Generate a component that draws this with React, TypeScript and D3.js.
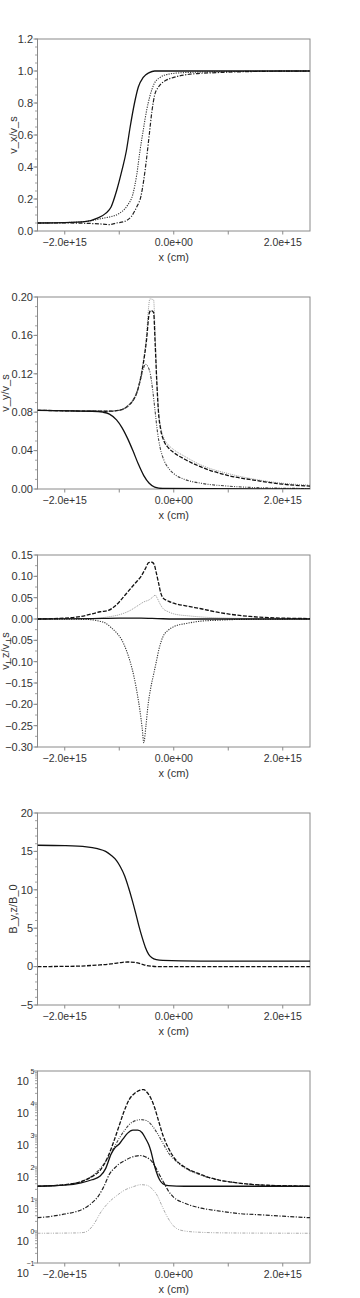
import React from 'react';
import * as d3 from 'd3';

type Pt = [number, number];

// x positions are given in units of 1e15 cm
const XU = 1e15;

// ---- panel 1: v_x/v_s
const vxSolid: Pt[] = [[-2.5, 0.05], [-2.0, 0.052], [-1.6, 0.06], [-1.4, 0.08], [-1.25, 0.11], [-1.15, 0.15], [-1.05, 0.25], [-0.95, 0.38], [-0.87, 0.5], [-0.8, 0.65], [-0.72, 0.8], [-0.65, 0.9], [-0.56, 0.96], [-0.45, 0.99], [-0.35, 1.0], [2.5, 1.0]];
const vxDotted: Pt[] = [[-2.5, 0.05], [-1.8, 0.055], [-1.5, 0.065], [-1.3, 0.08], [-1.15, 0.09], [-1.0, 0.11], [-0.85, 0.16], [-0.75, 0.23], [-0.68, 0.35], [-0.62, 0.5], [-0.55, 0.65], [-0.5, 0.75], [-0.44, 0.84], [-0.36, 0.92], [-0.25, 0.96], [-0.1, 0.98], [0.2, 0.99], [0.8, 0.995], [2.5, 1.0]];
const vxDashDot: Pt[] = [[-2.5, 0.05], [-2.0, 0.05], [-1.6, 0.048], [-1.3, 0.043], [-1.18, 0.04], [-1.05, 0.05], [-0.9, 0.06], [-0.78, 0.09], [-0.68, 0.15], [-0.6, 0.22], [-0.55, 0.32], [-0.5, 0.45], [-0.45, 0.6], [-0.4, 0.75], [-0.35, 0.85], [-0.28, 0.9], [-0.15, 0.94], [0.0, 0.96], [0.3, 0.98], [0.8, 0.99], [1.5, 0.997], [2.5, 1.0]];

// ---- panel 2: v_y/v_s
const vySolid: Pt[] = [[-2.5, 0.082], [-1.5, 0.081], [-1.3, 0.08], [-1.18, 0.078], [-1.05, 0.072], [-0.95, 0.064], [-0.85, 0.053], [-0.75, 0.04], [-0.65, 0.026], [-0.55, 0.014], [-0.45, 0.006], [-0.35, 0.002], [-0.2, 0.0005], [2.5, 0]];
const vyDashDot: Pt[] = [[-2.5, 0.082], [-1.2, 0.081], [-1.0, 0.082], [-0.85, 0.086], [-0.75, 0.092], [-0.68, 0.1], [-0.62, 0.112], [-0.56, 0.125], [-0.52, 0.13], [-0.47, 0.127], [-0.43, 0.12], [-0.38, 0.1], [-0.34, 0.08], [-0.3, 0.06], [-0.25, 0.043], [-0.18, 0.03], [-0.1, 0.022], [0.0, 0.016], [0.2, 0.01], [0.5, 0.006], [1.0, 0.003], [1.5, 0.0015], [2.5, 0.0005]];
const vyDashed: Pt[] = [[-2.5, 0.082], [-1.2, 0.081], [-1.0, 0.082], [-0.85, 0.086], [-0.75, 0.092], [-0.68, 0.1], [-0.62, 0.112], [-0.56, 0.13], [-0.5, 0.155], [-0.45, 0.183], [-0.42, 0.186], [-0.37, 0.184], [-0.34, 0.15], [-0.31, 0.11], [-0.28, 0.08], [-0.24, 0.062], [-0.18, 0.05], [-0.1, 0.043], [0.0, 0.038], [0.2, 0.031], [0.5, 0.023], [1.0, 0.014], [1.5, 0.009], [2.0, 0.005], [2.5, 0.003]];
const vyGray: Pt[] = [[-2.5, 0.082], [-1.2, 0.081], [-1.0, 0.082], [-0.85, 0.087], [-0.75, 0.093], [-0.68, 0.101], [-0.62, 0.114], [-0.56, 0.133], [-0.5, 0.16], [-0.46, 0.19], [-0.44, 0.198], [-0.37, 0.197], [-0.34, 0.16], [-0.31, 0.115], [-0.28, 0.083], [-0.24, 0.065], [-0.18, 0.053], [-0.1, 0.046], [0.0, 0.041], [0.2, 0.034], [0.5, 0.025], [1.0, 0.016], [1.5, 0.01], [2.0, 0.006], [2.5, 0.004]];

// ---- panel 3: v_z/v_s
const vzSolid: Pt[] = [[-2.5, 0], [-1.5, 0.001], [-1.0, 0.002], [-0.6, 0.002], [-0.3, 0.001], [0, 0], [2.5, 0]];
const vzDashed: Pt[] = [[-2.5, 0], [-2.0, 0.002], [-1.7, 0.006], [-1.5, 0.012], [-1.35, 0.017], [-1.2, 0.02], [-1.1, 0.028], [-1.0, 0.04], [-0.9, 0.055], [-0.8, 0.07], [-0.7, 0.085], [-0.6, 0.1], [-0.52, 0.118], [-0.46, 0.132], [-0.4, 0.133], [-0.36, 0.128], [-0.32, 0.108], [-0.28, 0.085], [-0.24, 0.062], [-0.2, 0.05], [-0.1, 0.042], [0.0, 0.037], [0.25, 0.03], [0.5, 0.024], [0.8, 0.016], [1.1, 0.01], [1.4, 0.006], [2.0, 0.002], [2.5, 0.001]];
const vzGray: Pt[] = [[-2.5, 0], [-1.5, 0.001], [-1.2, 0.005], [-1.0, 0.01], [-0.8, 0.02], [-0.65, 0.032], [-0.55, 0.04], [-0.45, 0.045], [-0.38, 0.052], [-0.34, 0.056], [-0.3, 0.048], [-0.25, 0.035], [-0.2, 0.025], [-0.1, 0.017], [0.0, 0.012], [0.3, 0.007], [0.6, 0.004], [1.0, 0.002], [1.5, 0.001], [2.5, 0]];
const vzDotted: Pt[] = [[-2.5, 0], [-1.6, -0.001], [-1.4, -0.004], [-1.25, -0.01], [-1.15, -0.02], [-1.05, -0.032], [-0.95, -0.05], [-0.87, -0.073], [-0.8, -0.1], [-0.73, -0.135], [-0.67, -0.175], [-0.62, -0.215], [-0.58, -0.255], [-0.55, -0.29], [-0.51, -0.25], [-0.47, -0.2], [-0.42, -0.16], [-0.37, -0.13], [-0.32, -0.1], [-0.27, -0.07], [-0.2, -0.042], [-0.1, -0.026], [0.0, -0.018], [0.25, -0.01], [0.5, -0.005], [0.8, -0.003], [1.2, -0.001], [2.5, 0]];

// ---- panel 4: B_y,z/B_0
const bySolid: Pt[] = [[-2.5, 15.8], [-2.0, 15.75], [-1.6, 15.6], [-1.4, 15.35], [-1.25, 15.0], [-1.15, 14.5], [-1.05, 13.8], [-0.98, 13.0], [-0.9, 11.8], [-0.83, 10.3], [-0.76, 8.6], [-0.7, 7.0], [-0.64, 5.3], [-0.58, 3.8], [-0.52, 2.5], [-0.46, 1.6], [-0.4, 1.15], [-0.32, 0.9], [-0.2, 0.8], [0.5, 0.72], [2.5, 0.7]];
const bzDashed: Pt[] = [[-2.5, 0], [-1.8, 0.05], [-1.4, 0.2], [-1.15, 0.35], [-1.0, 0.5], [-0.85, 0.6], [-0.72, 0.55], [-0.6, 0.35], [-0.5, 0.15], [-0.4, 0.05], [-0.3, 0], [2.5, 0]];

// ---- panel 5: log scale quantities
const lgDashed: Pt[] = [[-2.5, 25], [-2.0, 28], [-1.7, 35], [-1.5, 50], [-1.35, 79], [-1.2, 224], [-1.1, 631], [-1.0, 1995], [-0.92, 5012], [-0.82, 12589], [-0.72, 19953], [-0.62, 25119], [-0.55, 26303], [-0.5, 22387], [-0.42, 14125], [-0.35, 7079], [-0.28, 2818], [-0.2, 1000], [-0.1, 398], [0.0, 200], [0.2, 100], [0.45, 63], [0.8, 40], [1.1, 33], [1.5, 28], [2.0, 26], [2.5, 25]];
const lgDashDot: Pt[] = [[-2.5, 25], [-2.0, 28], [-1.7, 35], [-1.5, 52], [-1.35, 89], [-1.2, 200], [-1.1, 398], [-1.0, 794], [-0.9, 1413], [-0.8, 2239], [-0.7, 2818], [-0.6, 3020], [-0.5, 2818], [-0.4, 1995], [-0.3, 1122], [-0.2, 562], [-0.1, 282], [0.0, 178], [0.2, 95], [0.45, 60], [0.8, 40], [1.1, 33], [1.5, 28], [2.0, 26], [2.5, 25]];
const lgSolid: Pt[] = [[-2.5, 25], [-2.0, 27], [-1.7, 32], [-1.5, 40], [-1.35, 52], [-1.25, 89], [-1.15, 251], [-1.08, 398], [-1.0, 525], [-0.93, 759], [-0.85, 1122], [-0.75, 1413], [-0.66, 1413], [-0.58, 1175], [-0.52, 794], [-0.46, 501], [-0.42, 316], [-0.37, 141], [-0.32, 71], [-0.26, 40], [-0.2, 30], [-0.1, 26], [0.2, 25], [2.5, 25]];
const lgLower: Pt[] = [[-2.5, 2.6], [-2.2, 2.95], [-2.0, 3.4], [-1.8, 4.0], [-1.65, 5.0], [-1.5, 7.6], [-1.38, 12.6], [-1.28, 25], [-1.18, 60], [-1.08, 95], [-1.0, 126], [-0.9, 158], [-0.8, 195], [-0.7, 219], [-0.62, 229], [-0.5, 200], [-0.4, 148], [-0.32, 89], [-0.25, 52], [-0.18, 32], [-0.1, 18], [0.0, 11.2], [0.2, 7.4], [0.5, 5.2], [0.8, 4.3], [1.2, 3.5], [1.6, 3.2], [2.0, 2.9], [2.5, 2.6]];
const lgGray: Pt[] = [[-2.5, 0.85], [-1.8, 0.87], [-1.65, 0.9], [-1.55, 1.1], [-1.45, 1.8], [-1.35, 3.6], [-1.2, 7.6], [-1.05, 12.6], [-0.9, 19], [-0.75, 24], [-0.6, 28], [-0.5, 27], [-0.4, 21], [-0.3, 12.6], [-0.22, 6.3], [-0.15, 3.5], [-0.05, 1.8], [0.05, 1.2], [0.2, 1.0], [0.5, 0.91], [1.0, 0.87], [2.5, 0.85]];

// ---- axis text
const xTicks = [-2, -1, 0, 1, 2];
const xTickLabels = ['\u22122.0e+15', '', '0.0e+00', '', '2.0e+15'];
const xTitle = 'x (cm)';
const yTitles = ['v_x/v_s', 'v_y/v_s', 'v_z/v_s', 'B_y,z/B_0', ''];
const logDecades = [-1, 0, 1, 2, 3, 4, 5];

// line styles
const SOLID = { stroke: '#111', dash: '', w: 1.3 };
const DOTTED = { stroke: '#333', dash: '1.2,1.2', w: 1.1 };
const DASHED = { stroke: '#111', dash: '4,1.5', w: 1.3 };
const DASHDOT = { stroke: '#222', dash: '4,1.5,1.2,1.5', w: 1.2 };
const DASHDOT3 = { stroke: '#444', dash: '3,1.3,1,1.3,1,1.3', w: 1.1 };
const LIGHT = { stroke: '#999', dash: '1,1', w: 1 };
const LIGHTDD = { stroke: '#aaa', dash: '3,1.3,1,1.3,1,1.3', w: 1 };

type Series = { pts: Pt[]; style: typeof SOLID };

const panels = [
  { domain: [0, 1.2], major: 0.2, minor: 0.05, fmt: d3.format('.1f'), log: false, titleX: 13,
    series: [{ pts: vxDotted, style: DOTTED }, { pts: vxDashDot, style: DASHDOT }, { pts: vxSolid, style: SOLID }] },
  { domain: [0, 0.2], major: 0.04, minor: 0.01, fmt: d3.format('.2f'), log: false, titleX: 5.5,
    series: [{ pts: vyGray, style: LIGHT }, { pts: vyDashed, style: DASHED }, { pts: vyDashDot, style: DASHDOT3 }, { pts: vySolid, style: SOLID }] },
  { domain: [-0.3, 0.15], major: 0.05, minor: 0.025, fmt: d3.format('.2f'), log: false, titleX: 5,
    series: [{ pts: vzGray, style: LIGHT }, { pts: vzDotted, style: DOTTED }, { pts: vzDashed, style: DASHED }, { pts: vzSolid, style: SOLID }] },
  { domain: [-5, 20], major: 5, minor: 1, fmt: d3.format('d'), log: false, titleX: 13,
    series: [{ pts: bzDashed, style: DASHED }, { pts: bySolid, style: SOLID }] },
  { domain: [0.1, 1e5], major: 0, minor: 0, fmt: d3.format('d'), log: true, titleX: 13,
    series: [{ pts: lgGray, style: LIGHTDD }, { pts: lgLower, style: DASHDOT }, { pts: lgDashDot, style: DASHDOT3 }, { pts: lgDashed, style: DASHED }, { pts: lgSolid, style: SOLID }] },
];

const PANEL_H = 258;
const L = 37.5, R = 310, T = 39, B = 231;
const FONT = '"Liberation Sans", Arial, sans-serif';

function range(a: number, b: number, step: number) {
  const out: number[] = [];
  const n = Math.round((b - a) / step);
  for (let i = 0; i <= n; i++) out.push(+(a + i * step).toFixed(6));
  return out;
}

function Panel({ p, i }: { p: typeof panels[number]; i: number }) {
  const x = d3.scaleLinear().domain([-2.5 * XU, 2.5 * XU]).range([L, R]);
  const y: any = p.log
    ? d3.scaleLog().domain(p.domain).range([B, T])
    : d3.scaleLinear().domain(p.domain).range([B, T]);
  const line = d3.line<Pt>()
    .x(d => x(d[0] * XU))
    .y(d => y(d[1]))
    .curve(d3.curveMonotoneX);

  const majors = p.log ? logDecades.map(e => Math.pow(10, e)) : range(p.domain[0], p.domain[1], p.major);
  let minors: number[] = [];
  if (p.log) {
    logDecades.slice(0, -1).forEach(e => {
      for (let k = 2; k <= 9; k++) minors.push(k * Math.pow(10, e));
    });
  } else {
    minors = range(p.domain[0], p.domain[1], p.minor);
  }

  return (
    <g transform={`translate(0,${i * PANEL_H})`}>
      <rect x={L} y={T} width={R - L} height={B - T} fill="white" stroke="#8a8a8a" strokeWidth={1} />
      <g clipPath="url(#plotclip)">
        {p.series.map((s: Series, k: number) => (
          <path key={k} d={line(s.pts) || ''} fill="none" stroke={s.style.stroke}
            strokeWidth={s.style.w} strokeDasharray={s.style.dash || undefined} />
        ))}
      </g>
      {/* y ticks */}
      {minors.map((v, k) => (
        <line key={'mn' + k} x1={L - 2.5} x2={L} y1={y(v)} y2={y(v)} stroke="#8a8a8a" strokeWidth={0.8} />
      ))}
      {majors.map((v, k) => (
        <line key={'mj' + k} x1={L - 4} x2={L} y1={y(v)} y2={y(v)} stroke="#8a8a8a" strokeWidth={1} />
      ))}
      {!p.log && majors.map((v, k) => (
        <text key={'yl' + k} x={L - 4.5} y={y(v)} dy="0.35em" textAnchor="end" fontSize={11}
          fill="#333" fontFamily={FONT}>{p.fmt(v)}</text>
      ))}
      {p.log && logDecades.map((e, k) => (
        <g key={'lg' + k}>
          <text x={29} y={y(Math.pow(10, e)) + 10} dy="0.35em" textAnchor="end" fontSize={11}
            fill="#333" fontFamily={FONT}>10</text>
          <text x={34.5} y={y(Math.pow(10, e)) + 1} dy="0.35em" textAnchor="end" fontSize={7}
            fill="#333" fontFamily={FONT}>{e < 0 ? '\u2212' + Math.abs(e) : String(e)}</text>
        </g>
      ))}
      {/* x ticks */}
      {xTicks.map((v, k) => (
        <g key={'xt' + k}>
          <line x1={x(v * XU)} x2={x(v * XU)} y1={B} y2={B + 3.5} stroke="#8a8a8a" strokeWidth={1} />
          {xTickLabels[k] && (
            <text x={x(v * XU)} y={B + 11} dy="0.35em" textAnchor="middle" fontSize={10.5}
              fill="#333" fontFamily={FONT}>{xTickLabels[k]}</text>
          )}
        </g>
      ))}
      <text x={(L + R) / 2} y={B + 26} dy="0.35em" textAnchor="middle" fontSize={11}
        fill="#333" fontFamily={FONT}>{xTitle}</text>
      {yTitles[i] && (
        <text transform={`translate(${p.titleX},${(T + B) / 2}) rotate(-90)`} dy="0.35em"
          textAnchor="middle" fontSize={11} fill="#333" fontFamily={FONT}>{yTitles[i]}</text>
      )}
    </g>
  );
}

export default function App() {
  return (
    <svg width={360} height={1298} style={{ position: 'absolute', left: 0, top: 0, background: 'white' }}>
      <defs>
        <clipPath id="plotclip">
          <rect x={L} y={T} width={R - L} height={B - T} />
        </clipPath>
      </defs>
      <rect x={0} y={0} width={360} height={1298} fill="white" />
      {panels.map((p, i) => <Panel key={i} p={p} i={i} />)}
    </svg>
  );
}
